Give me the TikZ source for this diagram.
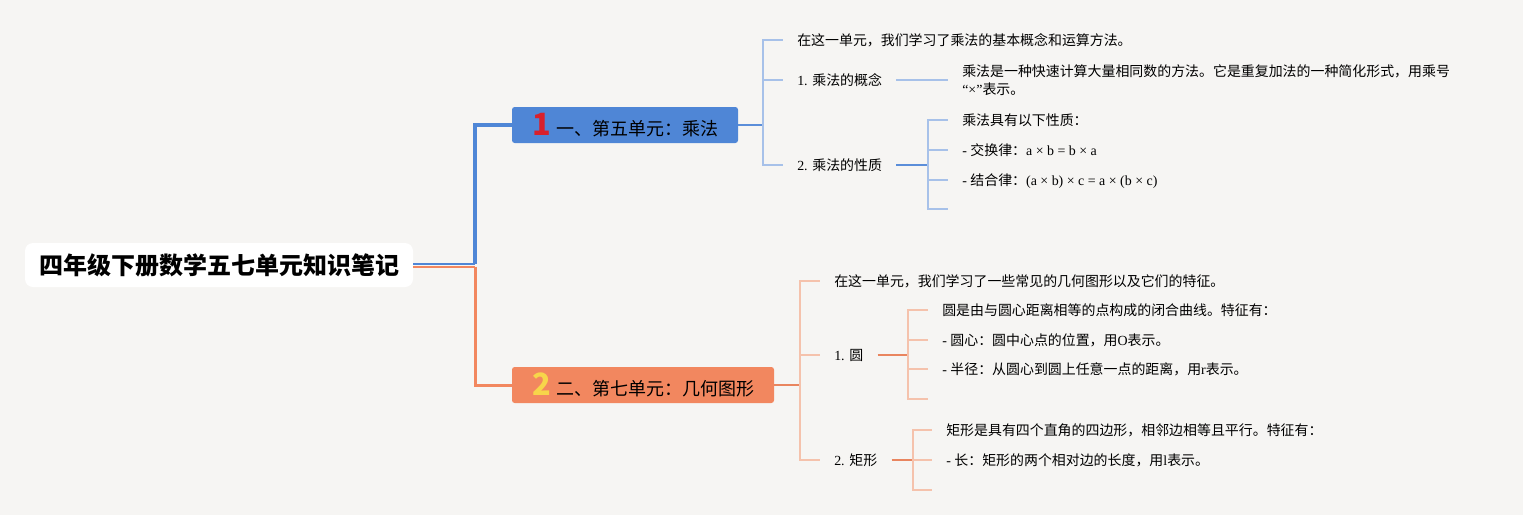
\documentclass[tikz,border=0pt]{standalone}
\usepackage{fontspec}
\setmainfont{Liberation Serif}
\newfontfamily\cjk{Noto Sans CJK SC}
\newcommand{\zhs}[1]{{\cjk #1}}
\usepackage{tikz}
\usetikzlibrary{positioning}
\definecolor{mmbg}{HTML}{F6F5F3}
\definecolor{mmblue}{HTML}{4F86D6}
\definecolor{mmbluemid}{HTML}{5B8ED9}
\definecolor{mmbluelt}{HTML}{A7C1E9}
\definecolor{mmorange}{HTML}{F2875F}
\definecolor{mmorangemid}{HTML}{E9855F}
\definecolor{mmorangelt}{HTML}{F5C2AC}
\definecolor{mmred}{HTML}{D8202C}
\definecolor{mmyellow}{HTML}{F7D54A}

\begin{document}
\begin{tikzpicture}[
  x=0.75pt, y=-0.75pt,
  root/.style={
    rectangle, rounded corners=6pt, fill=white,
    minimum width=291pt, minimum height=33pt,
    font=\cjk\bfseries\fontsize{18}{18}\selectfont
  },
  topic/.style={
    rectangle, rounded corners=2pt, fill=#1,
    minimum height=27pt, inner xsep=15pt,
    font=\cjk\fontsize{13.5}{13.5}\selectfont
  },
  note/.style={
    anchor=west, inner xsep=10.5pt, inner ysep=2pt,
    align=left, font=\fontsize{10.45}{14}\selectfont
  },
  item/.style={note, text depth=0pt},
  trunk/.style={draw=#1, line width=3.5pt},
  stem/.style={draw=#1, line width=1.5pt},
  twig/.style={draw=#1, line width=1.1pt},
]
\useasboundingbox (0,0) rectangle (1523,515);
\fill[mmbg] (0,0) rectangle (1523,515);

% Title
\node[root] (title) at (219,265) {四年级下册数学五七单元知识笔记};
\coordinate (hub) at (475,265);

% Unit 5: multiplication
\node[topic=mmblue, minimum width=165pt] (u5) at (625,125) {%
  {\color{mmred}\fontsize{23}{23}\selectfont\bfseries 1}\hspace{4pt}一、第五单元：乘法};
\coordinate (u5j) at (763,125);
\node[item] (u5a) at (783,40) {\zhs{在这一单元，我们学习了乘法的基本概念和运算方法。}};
\node[item] (u5b) at (783,80) {1. \zhs{乘法的概念}};
\node[item] (u5c) at (783,165) {2. \zhs{乘法的性质}};

\node[note] (u5b1) at (948,80) {%
  \zhs{乘法是一种快速计算大量相同数的方法。它是重复加法的一种简化形式，用乘号}\\
  “×”\zhs{表示。}};

\coordinate (u5cj) at (928,165);
\node[item] (u5c1) at (948,120) {\zhs{乘法具有以下性质：}};
\node[item] (u5c2) at (948,150) {- \zhs{交换律：}a × b = b × a};
\node[item] (u5c3) at (948,180) {- \zhs{结合律：}(a × b) × c = a × (b × c)};
\coordinate (u5c4) at (948,209);

% Unit 7: geometry
\node[topic=mmorange, minimum width=192pt] (u7) at (643,385) {%
  {\color{mmyellow}\fontsize{23}{23}\selectfont\bfseries 2}\hspace{4pt}二、第七单元：几何图形};
\coordinate (u7j) at (800,385);
\node[item] (u7a) at (820,281) {\zhs{在这一单元，我们学习了一些常见的几何图形以及它们的特征。}};
\node[item] (u7b) at (820,355) {1. \zhs{圆}};
\node[item] (u7c) at (820,460) {2. \zhs{矩形}};

\coordinate (u7bj) at (908,355);
\node[item] (u7b1) at (928,310) {\zhs{圆是由与圆心距离相等的点构成的闭合曲线。特征有：}};
\node[item] (u7b2) at (928,340) {- \zhs{圆心：圆中心点的位置，用}O\zhs{表示。}};
\node[item] (u7b3) at (928,369) {- \zhs{半径：从圆心到圆上任意一点的距离，用}r\zhs{表示。}};
\coordinate (u7b4) at (928,399);

\coordinate (u7cj) at (913,460);
\node[item] (u7c1) at (932,430) {\zhs{矩形是具有四个直角的四边形，相邻边相等且平行。特征有：}};
\node[item] (u7c2) at (932,460) {- \zhs{长：矩形的两个相对边的长度，用}l\zhs{表示。}};
\coordinate (u7c3) at (932,490);

% connectors
\draw[stem=mmblue] ([yshift=1pt]title.east) -- ([yshift=1pt]hub);
\draw[trunk=mmblue] ([yshift=1pt]hub) |- (u5.west);
\draw[stem=mmorange] ([yshift=-1.2pt]title.east) -- ([yshift=-1.2pt]hub);
\draw[trunk=mmorange, line width=2.25pt] ([yshift=-1.2pt]hub) |- (u7.west);

\draw[stem=mmbluemid] (u5) -- (u5j);
\foreach \n in {u5a,u5b,u5c} \draw[twig=mmbluelt] (u5j) |- (\n.west);
\draw[twig=mmbluelt] (u5b) -- (u5b.east -| u5b1.west);
\draw[stem=mmbluemid] (u5c) -- (u5cj);
\foreach \n in {u5c1,u5c2,u5c3} \draw[twig=mmbluelt] (u5cj) |- (\n.west);
\draw[twig=mmbluelt] (u5cj) |- (u5c4);

\draw[stem=mmorangemid] (u7) -- (u7j);
\foreach \n in {u7a,u7b,u7c} \draw[twig=mmorangelt] (u7j) |- (\n.west);
\draw[stem=mmorangemid] (u7b) -- (u7bj);
\foreach \n in {u7b1,u7b2,u7b3} \draw[twig=mmorangelt] (u7bj) |- (\n.west);
\draw[twig=mmorangelt] (u7bj) |- (u7b4);
\draw[stem=mmorangemid] (u7c) -- (u7cj);
\foreach \n in {u7c1,u7c2} \draw[twig=mmorangelt] (u7cj) |- (\n.west);
\draw[twig=mmorangelt] (u7cj) |- (u7c3);

\end{tikzpicture}
\end{document}
